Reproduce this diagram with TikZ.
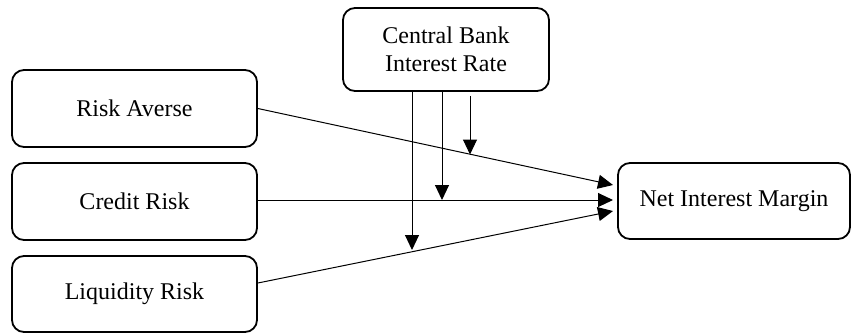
\documentclass[tikz,border=0pt]{standalone}
\usepackage{fontspec}
\setmainfont{Liberation Serif}
\usetikzlibrary{arrows.meta,calc}
\begin{document}
\begin{tikzpicture}[x=0.5pt,y=-0.5pt,
  box/.style={draw,rounded corners=6pt,line width=0.9pt,align=center,inner sep=0pt,font=\fontsize{12}{14}\selectfont},
  arr/.style={line width=0.5pt,-{Triangle[length=7.5pt,width=7pt]}}]
\useasboundingbox (0,0) rectangle (852,333);
\node[box,minimum width=122.5pt,minimum height=38.5pt] (ra) at (134.5,108.5) {Risk Averse};
\node[box,minimum width=122.5pt,minimum height=38.5pt] (cr) at (134.5,201.5) {Credit Risk};
\node[box,minimum width=122.5pt,minimum height=38pt] (lr) at (134.5,294) {Liquidity Risk};
\node[box,minimum width=103pt,minimum height=41.5pt] (cb) at (446,49.5) {Central Bank\\Interest Rate};
\node[box,minimum width=116pt,minimum height=38pt] (nim) at (734,201) {Net Interest Margin};
\coordinate (t1) at (613,185);
\coordinate (t2) at (613,200);
\coordinate (t3) at (613,211);
\draw[arr] (ra.east) -- (t1);
\draw[arr] (cr.east |- t2) -- (t2);
\draw[arr] (lr.east |- 0,283) -- (t3);
\coordinate (v1) at (470,154.5);
\coordinate (v2) at (442,200);
\coordinate (v3) at (412,250);
\draw[arr] (cb.south -| v1) ++(0,4) -- (v1);
\draw[arr] (cb.south -| v2) -- (v2);
\draw[arr] (cb.south -| v3) -- (v3);
\end{tikzpicture}
\end{document}
